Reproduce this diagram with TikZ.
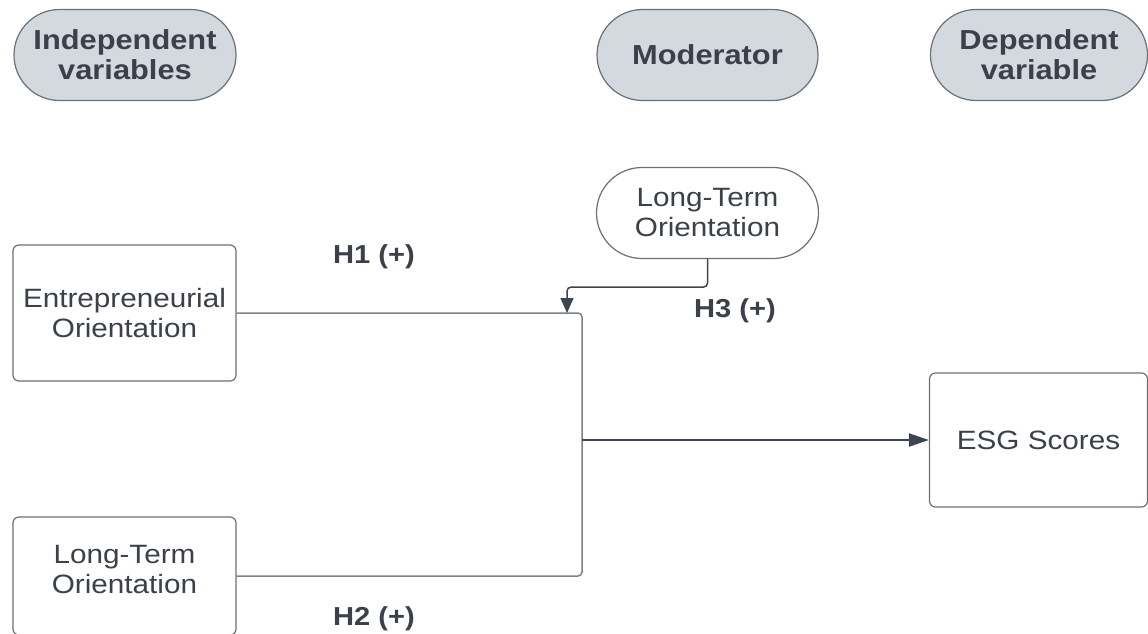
\documentclass[tikz,border=0pt]{standalone}
\usepackage{fontspec}
\setmainfont[FakeStretch=1.12]{Liberation Sans}
\usetikzlibrary{shapes.misc,arrows.meta}
\definecolor{pillfill}{HTML}{D4D9E0}
\definecolor{edge}{HTML}{6B6F76}
\definecolor{txt}{HTML}{3B4049}
\definecolor{lnk}{HTML}{7D8188}
\definecolor{lnkdark}{HTML}{3E4550}
\tikzset{
  pill/.style={rounded rectangle, draw=edge, line width=1.2pt, fill=pillfill,
    text=txt, align=center, inner sep=0pt, font=\fontsize{27.5}{30}\selectfont\bfseries},
  whitepill/.style={rounded rectangle, draw=edge, line width=1.2pt, fill=white,
    text=txt, align=center, inner sep=0pt, font=\fontsize{26.5}{30}\selectfont},
  varbox/.style={rectangle, rounded corners=6pt, draw=edge, line width=1.2pt, fill=white,
    text=txt, align=center, inner sep=0pt, font=\fontsize{26.5}{30}\selectfont},
  boxtext/.style={text=txt, align=center, inner sep=0pt, font=\fontsize{26.5}{30}\selectfont},
  hlabel/.style={text=txt, font=\fontsize{26}{28}\selectfont\bfseries, inner sep=0pt},
  conn/.style={draw=lnk, line width=1.5pt, rounded corners=4pt},
  modarrow/.style={draw=lnkdark, line width=1.5pt, rounded corners=4pt, -{Triangle[length=15pt,width=13pt]}},
  mainarrow/.style={draw=lnkdark, line width=2.2pt, -{Triangle[length=20pt,width=13pt]}}
}
\begin{document}
\begin{tikzpicture}[x=1pt,y=-1pt]
\useasboundingbox (0,0) rectangle (1148,633);

% header pills
\node[pill, minimum width=222pt, minimum height=91pt] (iv) at (125,55) {Independent\\variables};
\node[pill, minimum width=221pt, minimum height=91pt] (mod) at (707.5,55) {Moderator};
\node[pill, minimum width=217pt, minimum height=91pt] (dv) at (1039,55) {Dependent\\variable};

% variables
\node[whitepill, minimum width=222pt, minimum height=91pt] (ltop) at (707.5,213) {Long-Term\\Orientation};
\node[varbox, minimum width=223pt, minimum height=136pt] (eo) at (124.5,313) {Entrepreneurial\\Orientation};
\node[varbox, minimum width=223pt, minimum height=118pt] (ltob) at (124.5,576) {};
\node[boxtext] (ltobt) at (124.5,570) {Long-Term\\Orientation};
\node[varbox, minimum width=218pt, minimum height=134pt] (esg) at (1038.5,440) {ESG Scores};

% labels
\node[hlabel] (h1) at (374,257) {H1 (+)};
\node[hlabel] (h3) at (735,311) {H3 (+)};
\node[hlabel] (h2) at (374,619) {H2 (+)};

% connectors
\coordinate (J) at (582,440);
\coordinate (M) at (567,313);
\draw[conn] (eo.east) -| (J);
\draw[conn] (ltob.east) -| (J);
\draw[mainarrow] (J) -- (esg.west);
\draw[modarrow] (ltop.south) -- ++(0,28) -| (M);
\end{tikzpicture}
\end{document}
